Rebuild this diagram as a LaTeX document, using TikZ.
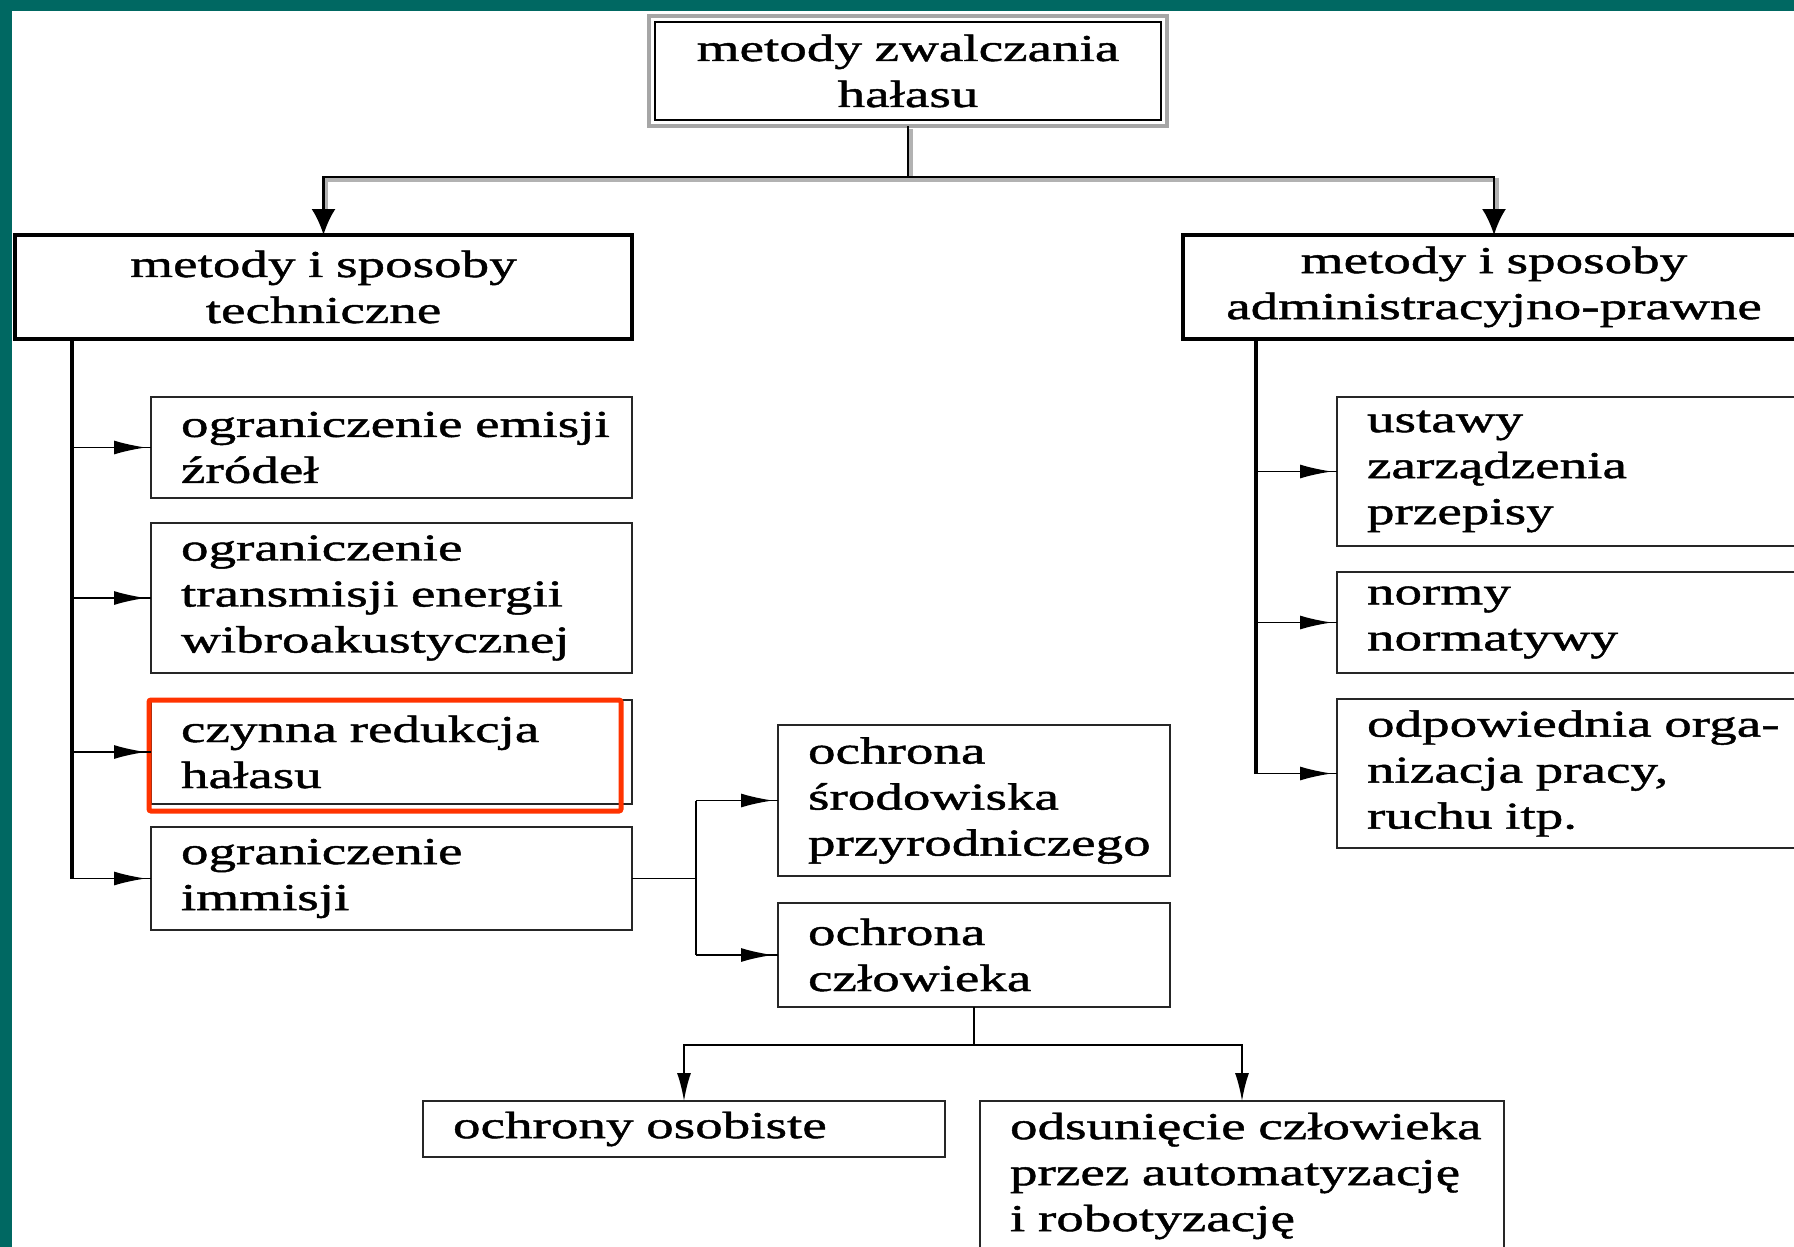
\documentclass[tikz,border=0pt]{standalone}
\usepackage{fontspec}
\setmainfont[FakeStretch=1.45,FakeBold=1.2]{Liberation Serif}
\usetikzlibrary{arrows.meta}
\hyphenpenalty=10000
\exhyphenpenalty=10000
\hbadness=10000
\hfuzz=300pt
\definecolor{teal0}{RGB}{0,104,98}
\definecolor{redbox}{RGB}{255,51,0}
\begin{document}
\begin{tikzpicture}[x=1pt,y=-1pt,
  every node/.style={font=\fontsize{38}{46}\selectfont, inner sep=0pt, outer sep=0pt, anchor=north west},
  lbox/.style={draw=black!85, line width=2.4pt, align=left, inner xsep=30pt, inner ysep=0pt},
  mbox/.style={draw=black, line width=3.8pt, align=center, inner ysep=0pt},
  topbox/.style={draw=gray!70, line width=4pt, align=center, inner ysep=0pt},
  dblg/.style={draw=gray!60, line width=3.5pt, transform canvas={shift={(3pt,-3pt)}}},
  dbld/.style={draw=black, line width=2.4pt},
  bigdown/.style={-{Latex[length=26pt,width=24pt]}},
  smalldown/.style={-{Latex[length=28pt,width=14pt]}},
  trunk/.style={draw=black, line width=3.2pt},
  branch/.style={draw=black, line width=1.8pt},
  brarrow/.style={draw=black, line width=1.8pt, -{Latex[length=32pt,width=14pt]}, shorten >=5pt}
]
\useasboundingbox (0,0) rectangle (1794,1247);
\clip (0,0) rectangle (1794,1247);
\fill[white] (0,0) rectangle (1794,1247);
\fill[teal0] (0,0) rectangle (12,1247);
\fill[teal0] (0,0) rectangle (1794,11);

% top
\node[topbox, minimum width=518pt, text width=458pt, minimum height=110pt] (top) at (649,16) {metody zwalczania\\hałasu};
\draw[black, line width=2pt] ([shift={(6pt,-6pt)}]top.north west) rectangle ([shift={(-6pt,6pt)}]top.south east);

% level 2
\node[mbox, minimum width=617pt, text width=557pt, minimum height=104pt] (tech) at (15,235) {metody i sposoby\\techniczne};
\node[mbox, minimum width=622pt, text width=562pt, minimum height=104pt] (admin) at (1183,235) {metody i sposoby\\administracyjno-prawne};

% left column
\node[lbox, minimum width=481pt, text width=421pt, minimum height=101pt] (emisji) at (151,397) {ograniczenie~emisji\\źródeł};
\node[lbox, minimum width=481pt, text width=421pt, minimum height=150pt] (trans) at (151,523) {ograniczenie\\transmisji~energii\\wibroakustycznej};
\node[lbox, minimum width=481pt, text width=421pt, minimum height=104pt] (czynna) at (151,700) {czynna~redukcja\\hałasu};
\node[lbox, minimum width=481pt, text width=421pt, minimum height=103pt] (immisji) at (151,827) {ograniczenie\\immisji};

% middle
\node[lbox, minimum width=392pt, text width=332pt, minimum height=151pt] (sroda) at (778,725) {ochrona\\środowiska\\przyrodniczego};
\node[lbox, minimum width=392pt, text width=332pt, minimum height=104pt] (czlow) at (778,903) {ochrona\\człowieka};

% bottom
\node[lbox, minimum width=522pt, text width=462pt, minimum height=56pt] (osob) at (423,1101) {ochrony~osobiste};
\node[lbox, minimum width=524pt, text width=464pt, minimum height=150pt] (odsun) at (980,1101) {odsunięcie~człowieka\\przez~automatyzację\\i~robotyzację};

% right column
\node[lbox, minimum width=470pt, text width=410pt, minimum height=149pt] (ustawy) at (1337,397) {ustawy\\zarządzenia\\przepisy};
\node[lbox, minimum width=470pt, text width=410pt, minimum height=101pt] (normy) at (1337,572) {normy\\normatywy};
\node[lbox, minimum width=470pt, text width=410pt, minimum height=149pt] (odpow) at (1337,699) {odpowiednia~orga-\\nizacja~pracy,\\ruchu~itp.};

% highlight
\draw[redbox, line width=5pt, rounded corners=2pt] (149,700) rectangle (621,811);

% top connectors
\path (top.south) ++(0,51) coordinate (j);
\path (j -| tech.north) coordinate (jl);
\path (j -| admin.north) coordinate (jr);
\draw[dblg] (top.south) -- (j);
\draw[dblg] ([yshift=26pt]tech.north) -- (jl) -- (jr) -- ([yshift=26pt]admin.north);
\draw[dbld] (top.south) -- (j);
\draw[dbld, bigdown] (j) -| (tech.north);
\draw[dbld, bigdown] (j) -| (admin.north);

% left trunk
\path (tech.south west) ++(57,0) coordinate (tl);
\draw[trunk] (tl) -- (tl |- immisji.west);
\foreach \b in {emisji,trans,czynna,immisji}{
  \draw[branch] (tl |- \b.west) -- (\b.west);
  \draw[brarrow] (tl |- \b.west) -- (\b.west);
}

% right trunk
\path (admin.south west) ++(73,0) coordinate (tr);
\draw[trunk] (tr) -- (tr |- odpow.west);
\foreach \b in {ustawy,normy,odpow}{
  \draw[branch] (tr |- \b.west) -- (\b.west);
  \draw[brarrow] (tr |- \b.west) -- (\b.west);
}

% immisji -> ochrona
\path (immisji.east) ++(64,0) coordinate (m);
\draw[branch] (immisji.east) -- (m);
\draw[branch] (m |- sroda.west) -- (m |- czlow.west);
\foreach \b in {sroda,czlow}{
  \draw[branch] (m |- \b.west) -- (\b.west);
  \draw[brarrow] (m |- \b.west) -- (\b.west);
}

% czlowiek -> bottom
\path (czlow.south) ++(0,38) coordinate (k);
\draw[branch] (czlow.south) -- (k);
\draw[branch, smalldown] (k) -| (osob.north);
\draw[branch, smalldown] (k) -| (odsun.north);
\end{tikzpicture}
\end{document}
